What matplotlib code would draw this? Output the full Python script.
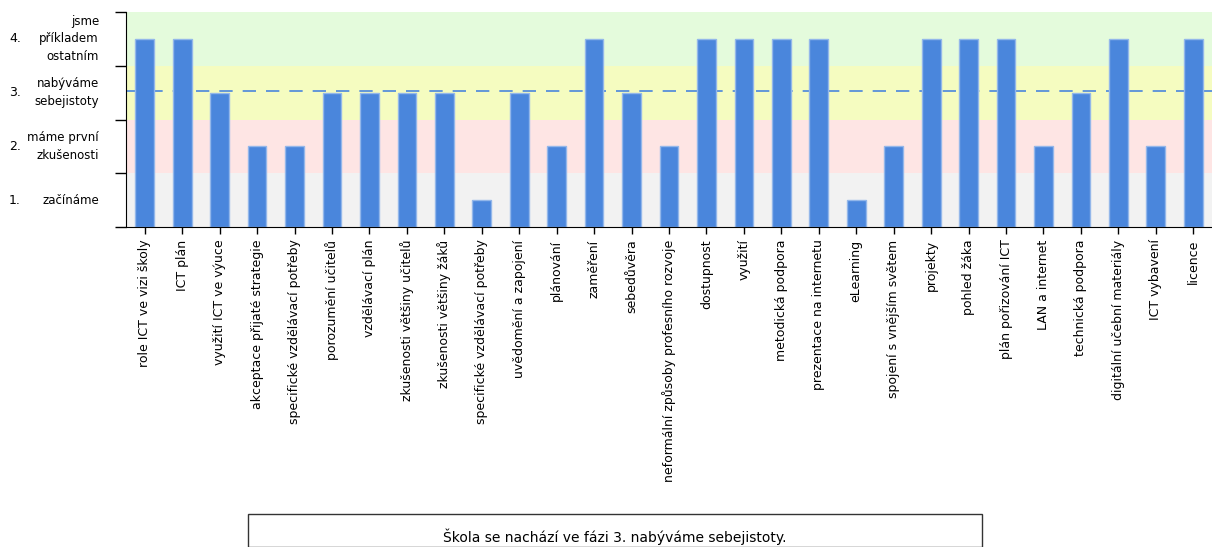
import numpy as np
import matplotlib
matplotlib.use("Agg")
import matplotlib.pyplot as plt
from matplotlib.patches import Rectangle
from matplotlib.transforms import blended_transform_factory

categories = [
    "role ICT ve vizi školy", "ICT plán", "využití ICT ve výuce",
    "akceptace přijaté strategie", "specifické vzdělávací potřeby",
    "porozumění učitelů", "vzdělávací plán", "zkušenosti většiny učitelů",
    "zkušenosti většiny žáků", "specifické vzdělávací potřeby",
    "uvědomění a zapojení", "plánování", "zaměření", "sebedůvěra",
    "neformální způsoby profesního rozvoje", "dostupnost", "využití",
    "metodická podpora", "prezentace na internetu", "eLearning",
    "spojení s vnějším světem", "projekty", "pohled žáka",
    "plán pořizování ICT", "LAN a internet", "technická podpora",
    "digitální učební materiály", "ICT vybavení", "licence",
]
levels = [4, 4, 3, 2, 2, 3, 3, 3, 3, 1, 3, 2, 4, 3, 2, 4, 4, 4, 4, 1,
          2, 4, 4, 4, 2, 3, 4, 2, 4]
level_nums = ["1.", "2.", "3.", "4."]
level_names = ["začínáme", "máme první\nzkušenosti", "nabýváme\nsebejistoty",
               "jsme\npříkladem\nostatním"]
band_colors = ["#f2f2f2", "#fee5e4", "#f5fcc0", "#e4fbdc"]
summary = "Škola se nachází ve fázi 3. nabýváme sebejistoty."

BAR = "#4a86dc"

fig = plt.figure(figsize=(12.12, 5.47), dpi=100)
ax = fig.add_axes([126 / 1212, 1 - 227 / 547, 1 - 126 / 1212, (227 - 12) / 547])

x = np.arange(len(categories))
vals = np.array(levels) - 0.5          # bar tops sit in the middle of each band

for i, c in enumerate(band_colors):
    ax.axhspan(i, i + 1, color=c, lw=0, zorder=0)

avg = np.mean(levels) - 0.5            # school average, drawn behind the bars
ax.axhline(avg, color=BAR, lw=1.2, ls=(0, (8, 6)), zorder=1)
ax.bar(x, vals, width=0.5, color=BAR, edgecolor="#93b7ea", lw=1, zorder=2)

ax.set_xlim(-0.5, len(categories) - 0.5)
ax.set_ylim(0, 4)
ax.set_xticks(x)
ax.set_xticklabels(categories, rotation=90, fontsize=9)
ax.set_yticks(range(5))
ax.set_yticklabels([])
ax.tick_params(axis="y", length=8, width=1)
ax.tick_params(axis="x", length=5, width=1, pad=4)
for s in ("top", "right"):
    ax.spines[s].set_visible(False)

tr = blended_transform_factory(fig.transFigure, ax.transData)
for i in range(4):
    ax.text(9 / 1212, i + 0.5, level_nums[i], transform=tr, ha="left",
            va="center", fontsize=9)
    ax.text(99 / 1212, i + 0.5, level_names[i], transform=tr, ha="right",
            va="center", fontsize=8.5, linespacing=1.45, multialignment="right")

fig.patches.append(Rectangle((248 / 1212, 0), (982 - 248) / 1212, 1 - 514 / 547,
                             transform=fig.transFigure, fill=False,
                             edgecolor="#333333", lw=1))
fig.text(615 / 1212, 1 - 537 / 547, summary, ha="center", va="center", fontsize=10)

fig.savefig("out.png", dpi=100)
